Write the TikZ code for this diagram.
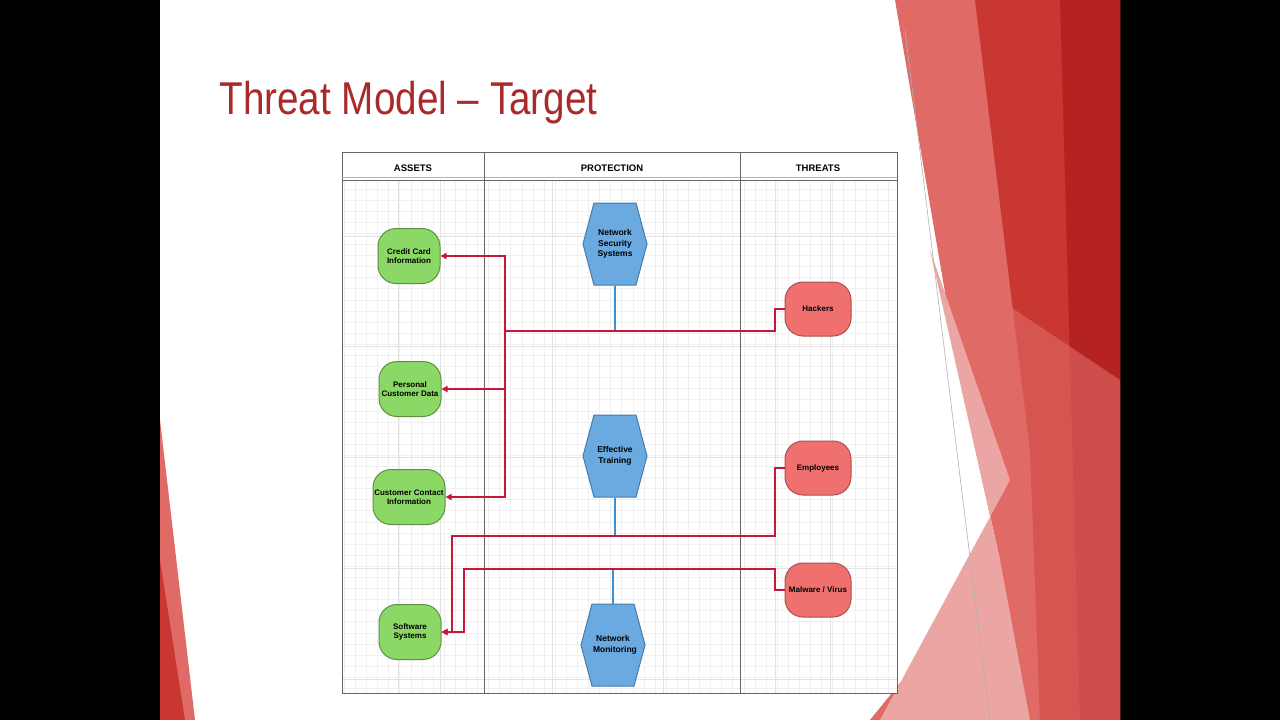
\documentclass[tikz,border=0pt]{standalone}
\usepackage{fontspec}
\setmainfont{Liberation Sans}
\usetikzlibrary{shapes.symbols,arrows.meta}
\definecolor{ttl}{HTML}{A82A2B}
\definecolor{gfill}{HTML}{8CD867}
\definecolor{gline}{HTML}{5F8F45}
\definecolor{bfill}{HTML}{6AAAE0}
\definecolor{bline}{HTML}{4A7BA8}
\definecolor{rfill}{HTML}{F07070}
\definecolor{rline}{HTML}{A85050}
\definecolor{conn}{HTML}{C8163A}
\definecolor{cblue}{HTML}{3D8FD0}
\definecolor{d1}{HTML}{E06A66}
\definecolor{d2}{HTML}{C93733}
\definecolor{d3}{HTML}{B52222}
\definecolor{d4}{HTML}{EBA5A3}
\begin{document}
\begin{tikzpicture}[x=1pt,y=-1pt,
  asset/.style={draw=gline,fill=gfill,line width=1pt,rounded corners=18pt,minimum width=62pt,minimum height=55pt,align=center,font=\fontsize{8}{9.5}\selectfont\bfseries,inner sep=1pt},
  prot/.style={shape=signal,signal to=east and west,signal pointer angle=150,draw=bline,fill=bfill,line width=1pt,minimum width=64pt,minimum height=82pt,text width=40pt,align=center,font=\fontsize{8.5}{10.5}\selectfont\bfseries,inner sep=1pt},
  threat/.style={draw=rline,fill=rfill,line width=1pt,rounded corners=18pt,minimum width=66pt,minimum height=54pt,align=center,font=\fontsize{8}{9.5}\selectfont\bfseries,inner sep=1pt},
  red/.style={draw=conn,line width=1.6pt},
  redarr/.style={red,-{Triangle[length=6pt,width=6pt]}},
  blu/.style={draw=cblue,line width=1.2pt},
  hdr/.style={font=\fontsize{9.5}{11}\selectfont\bfseries}]
\useasboundingbox (0,0) rectangle (1280,720);
\fill[black] (0,0) rectangle (1280,720);
\fill[white] (160,0) rectangle (1120,720);
% decorative red
\fill[d1] (160,420) -- (195,720) -- (160,720) -- cycle;
\fill[d2] (160,560) -- (185,720) -- (160,720) -- cycle;
\fill[d1] (895,0) -- (1120,0) -- (1120,720) -- (870,720) -- (1000,560) -- (960,380) -- cycle;
\fill[d4] (930,250) -- (1000,560) -- (1030,720) -- (880,720) -- (1010,480) -- cycle;
\fill[d2] (975,0) -- (1120,0) -- (1120,720) -- (1040,720) -- (1030,450) -- cycle;
\fill[d3] (1060,0) -- (1120,0) -- (1120,720) -- (1080,720) -- cycle;
\fill[d1,opacity=0.6] (1000,300) -- (1120,380) -- (1120,720) -- (1040,720) -- cycle;
\draw[gray!60,line width=0.6pt] (905,30) -- (990,720);
% title
\node[anchor=west,text=ttl,font=\fontsize{46}{50}\selectfont] (title) at (216,103) {\scalebox{0.84}[1]{Threat Model – Target}};
% frame
\fill[white] (342,152) rectangle (897,693);
\draw[gray!12,line width=0.3pt,step=11.1pt] (342,180) grid (897,693);
\draw[gray!22,line width=0.4pt] \foreach \y in {236,346,457,568,679} {(342,\y) -- (897,\y)};
\draw[gray!22,line width=0.4pt] \foreach \x in {398,440,552,663,775,830} {(\x,180) -- (\x,693)};
\draw[gray!80!black,line width=0.8pt] (342,152) rectangle (897,693);
\draw[gray!80!black,line width=0.8pt] (342,180) -- (897,180);
\draw[gray!60,line width=0.5pt] (342,177) -- (897,177);
\draw[gray!80!black,line width=0.8pt] (484,152) -- (484,693) (740,152) -- (740,693);
\node[hdr] (h1) at (413,168) {ASSETS};
\node[hdr] (h2) at (612,168) {PROTECTION};
\node[hdr] (h3) at (818,168) {THREATS};
% nodes
\node[asset] (cc) at (409,256) {Credit Card\\Information};
\node[asset] (pc) at (410,389) {Personal\\Customer Data};
\node[asset,minimum width=72pt] (ci) at (409,497) {Customer Contact\\Information};
\node[asset] (ss) at (410,632) {Software\\Systems};
\node[prot] (ns) at (615,244) {Network\\Security\\Systems};
\node[prot] (et) at (615,456) {Effective\\Training};
\node[prot] (nm) at (613,645) {Network\\Monitoring};
\node[threat] (hk) at (818,309) {Hackers};
\node[threat] (em) at (818,468) {Employees};
\node[threat] (mv) at (818,590) {Malware / Virus};
% coordinates
\coordinate (j1) at (615,331);
\coordinate (j2) at (615,536);
\coordinate (j3) at (613,569);
% blue
\draw[blu] (ns.south) -- (j1);
\draw[blu] (et.south) -- (j2);
\draw[blu] (nm.north) -- (j3);
% red
\draw[red] (hk.west) -- (775,309) -- (775,331) -- (505,331);
\draw[redarr] (505,331) -- (505,256) -- (cc.east);
\draw[redarr] (505,389) -- (pc.east);
\draw[redarr] (505,331) -- (505,497) -- (ci.east);
\draw[redarr] (em.west) -- (775,468) -- (775,536) -- (452,536) -- (452,632) -- (ss.east);
\draw[redarr] (mv.west) -- (775,590) -- (775,569) -- (464,569) -- (464,632) -- (ss.east);
\end{tikzpicture}
\end{document}
